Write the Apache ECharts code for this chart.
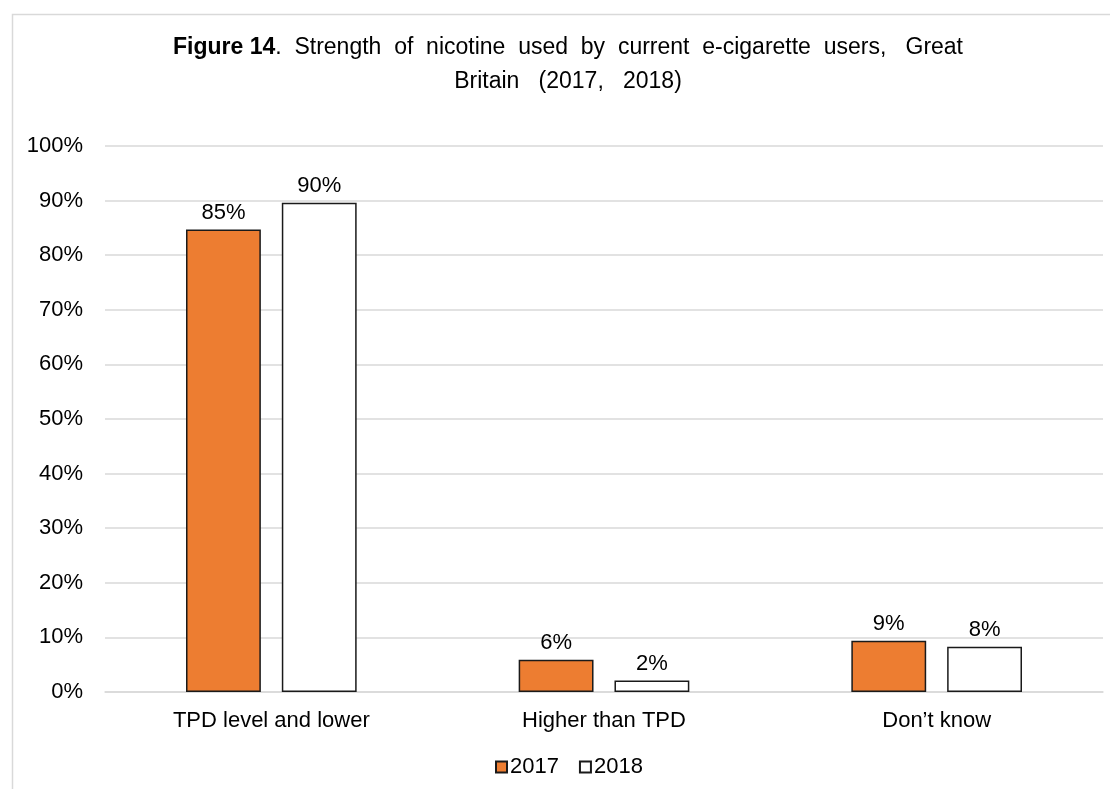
<!DOCTYPE html>
<html>
<head>
<meta charset="utf-8">
<script src="https://cdn.jsdelivr.net/npm/echarts@6/dist/echarts.min.js"></script>
<style>
html,body{margin:0;padding:0;background:#fff;}
#chart{width:1110px;height:789px;}
</style>
</head>
<body>
<div id="chart"></div>
<script>
var categories = ['TPD level and lower', 'Higher than TPD', 'Don\u2019t know'];
var values2017 = [84.7, 5.9, 9.4];
var values2018 = [89.6, 2.1, 8.3];
var seriesNames = ['2017', '2018'];
var yTicks = [0, 10, 20, 30, 40, 50, 60, 70, 80, 90, 100];

var FONT = '"Liberation Sans", Arial, sans-serif';
var chart = echarts.init(document.getElementById('chart'), null, {renderer: 'canvas'});

function lbl(p){ return Math.round(p.value) + '%'; }

chart.setOption({
  backgroundColor: '#fff',
  animation: false,
  textStyle: {fontFamily: FONT},
  title: {
    text: '{b|Figure 14}{n|.  Strength  of  nicotine  used  by  current  e-cigarette  users,   Great}\n{n|Britain   (2017,   2018)}',
    left: 568,
    top: 31,
    padding: 0,
    textAlign: 'center',
    textStyle: {
      fontFamily: FONT,
      color: '#000',
      align: 'center',
      lineHeight: 34,
      rich: {
        b: {fontWeight: 'bold', fontSize: 23, fontFamily: FONT, color: '#000', lineHeight: 34},
        n: {fontWeight: 'normal', fontSize: 23, fontFamily: FONT, color: '#000', lineHeight: 34}
      }
    }
  },
  graphic: [{
    type: 'rect',
    left: 10, top: 12,
    shape: {width: 1200, height: 900},
    style: {fill: 'none', stroke: '#d9d9d9', lineWidth: 1.5},
    silent: true
  }],
  legend: {
    data: seriesNames,
    bottom: 6,
    left: 490,
    itemWidth: 11,
    itemHeight: 11,
    itemGap: 20,
    icon: 'rect',
    textStyle: {fontFamily: FONT, fontSize: 22, color: '#000', padding: [0, 0, 0, -2]}
  },
  grid: {left: 105, right: 7, top: 146, bottom: 97, containLabel: false},
  xAxis: {
    type: 'category',
    data: categories,
    axisLine: {show: true, lineStyle: {color: '#d9d9d9', width: 1.5}},
    axisTick: {show: false},
    axisLabel: {fontFamily: FONT, fontSize: 22, color: '#000', margin: 18}
  },
  yAxis: {
    type: 'value',
    min: 0, max: 100, interval: 10,
    axisLine: {show: false},
    axisTick: {show: false},
    splitLine: {lineStyle: {color: '#d9d9d9', width: 1.5}},
    axisLabel: {fontFamily: FONT, fontSize: 22, color: '#000', margin: 22,
      formatter: function(v){ return yTicks.indexOf(v) >= 0 ? v + '%' : ''; }}
  },
  series: [{
    name: seriesNames[0],
    type: 'bar',
    data: values2017,
    barWidth: '22.5%',
    barGap: '28%',
    itemStyle: {color: '#ED7D31', borderColor: '#1a1a1a', borderWidth: 1.5},
    label: {show: true, position: 'top', distance: 6, formatter: lbl,
      fontFamily: FONT, fontSize: 22, color: '#000'}
  }, {
    name: seriesNames[1],
    type: 'bar',
    data: values2018,
    barWidth: '22.5%',
    itemStyle: {color: '#ffffff', borderColor: '#1a1a1a', borderWidth: 1.5},
    label: {show: true, position: 'top', distance: 6, formatter: lbl,
      fontFamily: FONT, fontSize: 22, color: '#000'}
  }]
});
</script>
</body>
</html>
